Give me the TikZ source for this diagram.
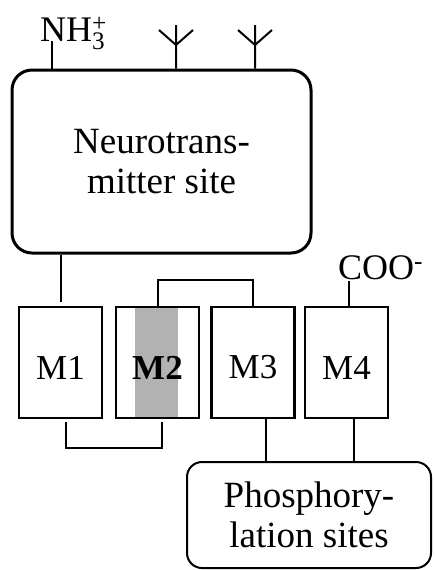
\documentclass[tikz,border=0pt]{standalone}
\usepackage{fontspec}
\setmainfont{Liberation Serif}
\begin{document}
\begin{tikzpicture}[x=1pt,y=-1pt,
  mbox/.style={draw,line width=2.5pt,minimum width=83pt,minimum height=111pt,
    inner sep=0pt,text height=33pt,font=\fontsize{35}{38}\selectfont},
  bigbox/.style={draw,align=center,font=\fontsize{37}{40}\selectfont},
  wire/.style={line width=2pt}]
  \useasboundingbox (0,0) rectangle (434,570);
  % receptor parts
  \node[bigbox,line width=3pt,rounded corners=20pt,minimum width=299pt,
    minimum height=183pt] (site) at (161.5,161.5) {Neurotrans-\\mitter site};
  \node[mbox] (m1) at (60.5,362.5) {M1};
  \node[mbox,path picture={\fill[black!30]
      ([xshift=-22.5pt]path picture bounding box.north) rectangle
      ([xshift=20.5pt]path picture bounding box.south);}]
    (m2) at (157.5,362.5) {\textbf{M2}};
  \node[mbox] (m3) at (253,362.5) {M3};
  \node[mbox] (m4) at (346.5,362.5) {M4};
  \node[bigbox,line width=2pt,rounded corners=15pt,minimum width=244pt,
    minimum height=106pt] (phos) at (309,515) {Phosphory-\\lation sites};
  % terminal groups
  \node[anchor=base west,inner sep=0pt,font=\fontsize{36}{40}\selectfont]
    (nh) at (40,41) {NH\rlap{\textsuperscript{+}}\textsubscript{3}};
  \node[anchor=base west,inner sep=0pt,font=\fontsize{36}{40}\selectfont]
    (coo) at (338,279) {COO\textsuperscript{-}};
  \draw[wire] ([xshift=12pt]nh.base west) coordinate (nhs) -- (site.north -| nhs);
  \draw[wire] ([xshift=11pt,yshift=-2pt]coo.base west) coordinate (coos) -- (m4.north -| coos);
  \foreach \x in {176,255} {
    \coordinate (ant) at (\x,25);
    \draw[wire] (site.north -| ant) -- (ant)
      (\x,45) -- ++(-17,-15) (\x,45) -- ++(17,-15);
  }
  % loops between segments
  \draw[wire,shorten >=4pt] (site.south -| m1) -- (m1.north);
  \draw[wire] (m2.north) -- ++(0,-26) -| (m3.north);
  \draw[wire,shorten <=3pt,shorten >=3pt] ([xshift=5.5pt]m1.south) -- ++(0,29)
    -| ([xshift=4.5pt]m2.south);
  \draw[wire] ([xshift=13pt]m3.south) coordinate (a3) -- (a3 |- phos.north);
  \draw[wire] ([xshift=7.5pt]m4.south) coordinate (a4) -- (a4 |- phos.north);
\end{tikzpicture}
\end{document}
